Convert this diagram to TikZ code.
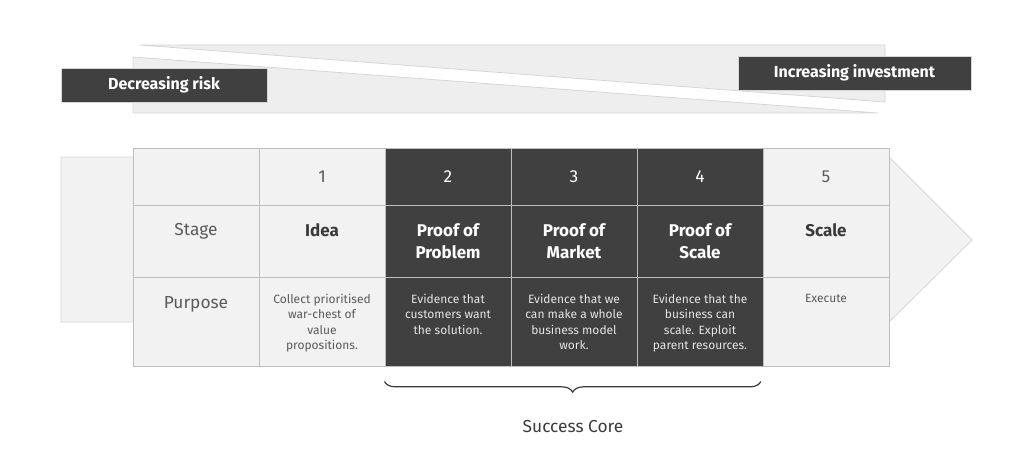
\documentclass[tikz,border=0pt]{standalone}
\usepackage{fontspec}
\setmainfont{Fira Sans}
\usepackage{tikz}
\usetikzlibrary{arrows.meta}
\usetikzlibrary{positioning}
\usetikzlibrary{decorations.pathreplacing}

\definecolor{dark}{HTML}{404040}
\definecolor{pale}{HTML}{F2F2F2}
\definecolor{wedge}{HTML}{EEEEEE}
\definecolor{rule}{HTML}{BEBEBE}
\definecolor{soft}{HTML}{D6D6D6}
\definecolor{ink}{HTML}{5A5A5A}
\definecolor{ink2}{HTML}{3A3A3A}
\definecolor{lite}{HTML}{E4E4E4}

\begin{document}
\begin{tikzpicture}[x=0.75pt, y=-0.75pt,
    every node/.style={inner sep=0pt},
    cell/.style={draw=rule, line width=0.75pt, minimum width=94.5pt, font=\fontsize{13}{16}\selectfont},
    banner/.style={draw=soft, line width=0.6pt, fill=dark, text=white, minimum height=25.5pt, font=\fontsize{12}{14}\bfseries},
    rowname/.style={anchor=north, text=ink, font=\fontsize{13}{16}\selectfont},
    stagename/.style={anchor=north, align=center, font=\fontsize{12.75}{16.5}\bfseries},
    note/.style={anchor=north, align=center, font=\fontsize{9}{11.6}\selectfont}]
    \useasboundingbox (0,0) rectangle (1024,467);

    % wedges
    \filldraw[fill=wedge, draw=soft, line width=0.6pt] (140,45) -- (885,45) -- (885,102) -- cycle;
    \filldraw[fill=wedge, draw=soft, line width=0.6pt] (133,57) -- (878,113) -- (133,113) -- cycle;
    \node[banner, minimum width=154.5pt] (risk) at (164,85) {Decreasing risk};
    \node[banner, minimum width=174.75pt] (invest) at (854.5,73) {Increasing investment};

    % arrow behind the table
    \filldraw[fill=pale, draw=soft, line width=0.6pt] (61,157) -- (889,157) -- (972,240) -- (889,322) -- (61,322) -- cycle;

    % table
    \foreach \i/\col/\ink in {0/pale/ink,1/pale/ink,2/dark/white,3/dark/white,4/dark/white,5/pale/ink} {
        \node[cell, fill=\col, text=\ink, minimum height=42.75pt] (n\i) at (196+126*\i,176.5) {\ifnum\i>0 \i\fi};
        \node[cell, fill=\col, minimum height=54pt] (s\i) at (196+126*\i,241) {};
        \node[cell, fill=\col, minimum height=66.75pt] (p\i) at (196+126*\i,321.5) {};
    }

    \node (t0) [rowname, below=14pt of s0.north] {Stage};
    \node (t1) [stagename, text=ink2, below=13.9pt of s1.north] {Idea};
    \node (t2) [stagename, text=white, below=13.9pt of s2.north] {Proof of\\Problem};
    \node (t3) [stagename, text=white, below=13.9pt of s3.north] {Proof of\\Market};
    \node (t4) [stagename, text=white, below=13.9pt of s4.north] {Proof of\\Scale};
    \node (t5) [stagename, text=ink2, below=13.9pt of s5.north] {Scale};

    \node (u0) [rowname, below=15pt of p0.north] {Purpose};
    \node (u1) [note, text=ink, below=12.75pt of p1.north] {Collect prioritised\\war-chest of\\value\\propositions.};
    \node (u2) [note, text=lite, below=12.75pt of p2.north] {Evidence that\\customers want\\the solution.};
    \node (u3) [note, text=lite, below=12.75pt of p3.north] {Evidence that we\\can make a whole\\business model\\work.};
    \node (u4) [note, text=lite, below=12.75pt of p4.north] {Evidence that the\\business can\\scale. Exploit\\parent resources.};
    \node (u5) [note, text=ink, below=12.75pt of p5.north] {Execute};

    % success core
    \draw[ink2, line width=0.9pt, decorate, decoration={brace, mirror, amplitude=8pt}]
        ([yshift=-11.25pt]p2.south west) -- ([yshift=-11.25pt, xshift=-2pt]p4.south east);
    \node (core) [text=ink2, font=\fontsize{13}{16}\selectfont] at (573,427) {Success Core};
\end{tikzpicture}
\end{document}
